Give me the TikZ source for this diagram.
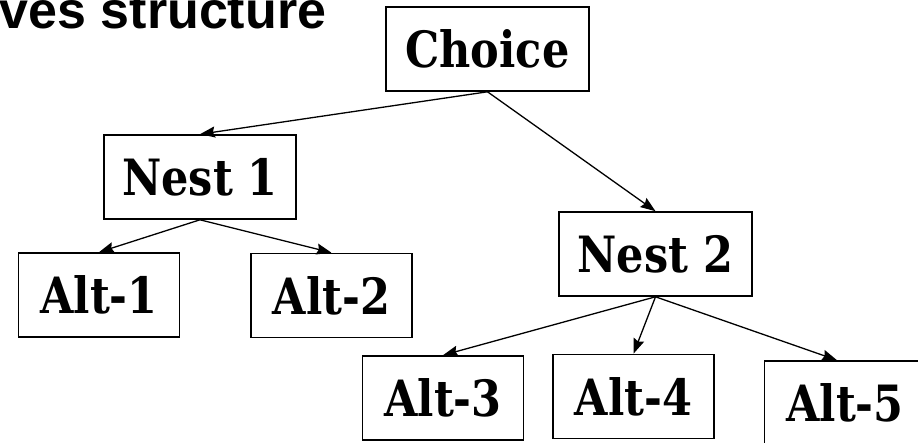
\documentclass[tikz,border=0pt]{standalone}
\usepackage{fontspec}
\usepackage{tikz}
\usetikzlibrary{arrows.meta}
\usetikzlibrary{positioning}

\newfontfamily\boxfont[FakeStretch=0.86]{DejaVu Serif}
\newfontfamily\titlefont{Liberation Sans}

\begin{document}
\begin{tikzpicture}[x=1pt,y=-1pt,->,>={Stealth[length=15pt,width=11pt,inset=2pt]},
                    line width=1.3pt,
                    box/.style={rectangle,draw,line width=1.6pt,inner sep=0pt,
                      minimum width=161pt,minimum height=84pt,
                      font=\boxfont\bfseries\fontsize{50}{56}\selectfont}]
                \useasboundingbox (0,0) rectangle (918,443);
                \clip (0,0) rectangle (918,443);
                \node[anchor=base west,inner sep=0pt,
                      font=\titlefont\bfseries\fontsize{52}{58}\selectfont] (title) at (-1,29) {ves structure};
                \node[box,minimum width=203pt] (choice) at (487.5,49) {Choice};
                \node[box,minimum width=192pt] (nest1) [below of=choice,node distance=128pt,xshift=-287.5pt] {Nest 1};
                \node[box,minimum width=193pt] (nest2) [below of=choice,node distance=205pt,xshift=168pt] {Nest 2};
                \node[box] (alt1) [below of=nest1,node distance=118pt,xshift=-101pt] {Alt-1};
                \node[box] (alt2) [below of=nest1,node distance=118.5pt,xshift=131.5pt] {Alt-2};
                \node[box] (alt3) [below of=nest2,node distance=144pt,xshift=-212.5pt] {Alt-3};
                \node[box] (alt4) [below of=nest2,node distance=142.5pt,xshift=-22pt] {Alt-4};
                \node[box] (alt5) [below of=nest2,node distance=149pt,xshift=189.5pt] {Alt-5};
                \draw (choice.south) -- (nest1.north);
                \draw (choice.south) -- (nest2.north);
                \draw (nest1.south) -- (alt1.north);
                \draw (nest1.south) -- (alt2.north);
                \draw (nest2.south) -- (alt3.north);
                \draw (nest2.south) -- (alt4.north);
                \draw (nest2.south) -- ([xshift=-8pt]alt5.north);
\end{tikzpicture}
\end{document}
